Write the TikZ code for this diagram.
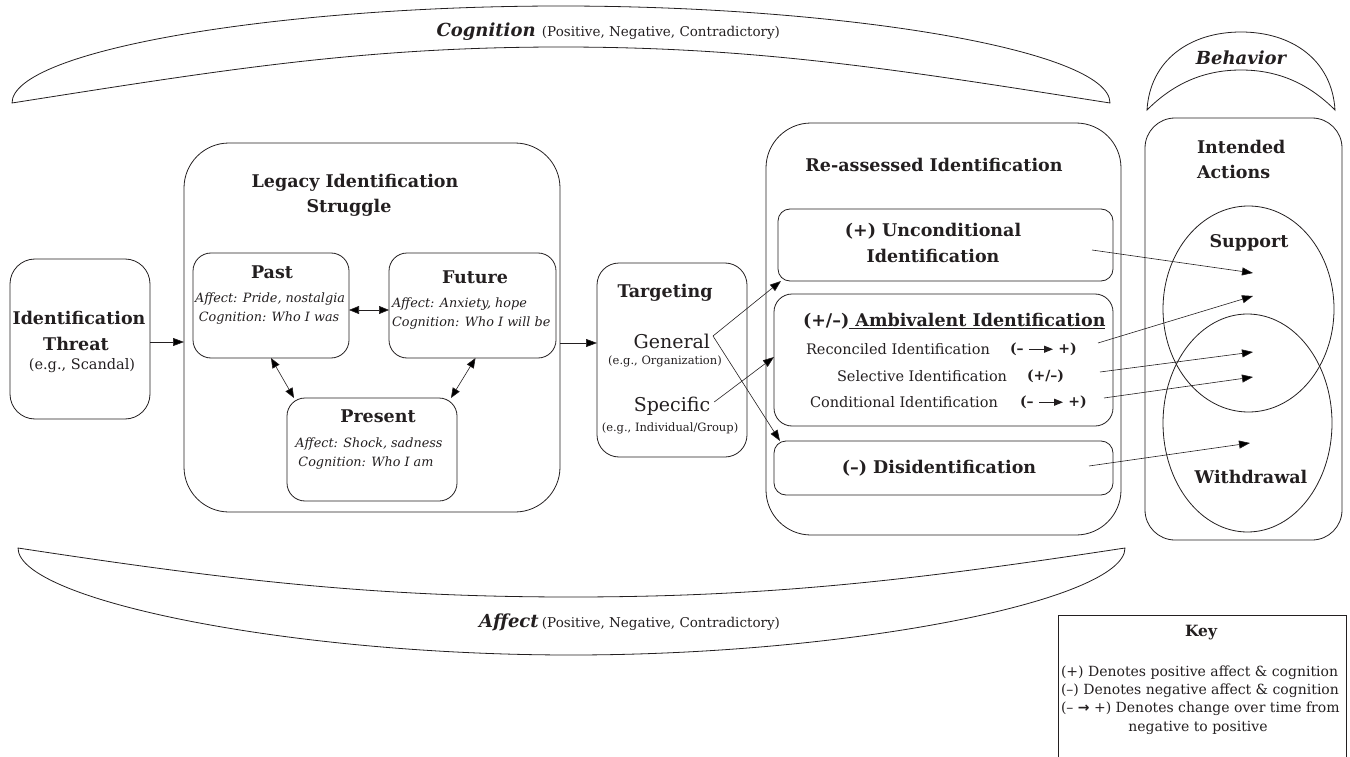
\documentclass[tikz,border=0pt]{standalone}
\usepackage{fontspec}
\setmainfont{DejaVu Serif}
\newfontfamily\symf{DejaVu Sans}
\usetikzlibrary{arrows.meta,shapes.geometric}
\definecolor{ink}{HTML}{231F20}
\newcommand\ltr{\tikz[x=1pt,y=1pt,baseline=-4pt]\draw[ink,-{Triangle[length=9pt,width=7pt]},line width=1.1pt] (0,0) -- (24pt,0);}
\begin{document}
\begin{tikzpicture}[x=1pt,y=-1pt,
  every node/.style={inner sep=0pt, outer sep=0pt, text=ink},
  frame/.style={draw=ink, line width=0.8pt, anchor=north west, inner sep=0pt},
  arr/.style={draw=ink, -{Triangle[length=11pt,width=8pt]}, line width=0.6pt},
  darr/.style={draw=ink, {Triangle[length=10pt,width=8pt]}-{Triangle[length=10pt,width=8pt]}, line width=0.6pt},
  crescent/.style={draw=ink, line width=0.8pt},
  hd/.style={font=\fontsize{17.5}{20}\selectfont\bfseries, align=center},
  ital/.style={font=\fontsize{12.8}{15}\selectfont\itshape},
  txt/.style={font=\fontsize{14.5}{17}\selectfont},
  keytxt/.style={font=\fontsize{14}{17}\selectfont},
  small/.style={font=\fontsize{11.5}{14}\selectfont},
  oval/.style={draw=ink, ellipse, line width=0.8pt, inner sep=0pt},
]
\useasboundingbox (0,0) rectangle (1350,757);

% ---- crescents ----
\draw[crescent] (12,103) .. controls (12,50) and (280,6) .. (561,6)
  .. controls (842,6) and (1110,50) .. (1110,103)
  .. controls (900,70) and (760,47) .. (561,47)
  .. controls (362,47) and (222,70) .. (12,103) -- cycle;
\draw[crescent] (1147,110) .. controls (1150,60) and (1190,32) .. (1241,32)
  .. controls (1292,32) and (1332,60) .. (1335,110)
  .. controls (1310,85) and (1280,70) .. (1241,70)
  .. controls (1202,70) and (1172,85) .. (1147,110) -- cycle;
\draw[crescent] (18,548) .. controls (18,600) and (290,655) .. (571,655)
  .. controls (852,655) and (1125,600) .. (1125,548)
  .. controls (915,580) and (770,597) .. (571,597)
  .. controls (372,597) and (228,580) .. (18,548) -- cycle;

\node[anchor=east] (coglab) at (780,32) {{\fontsize{18}{20}\selectfont\bfseries\itshape Cognition}\ \ {\fontsize{13.5}{16}\selectfont (Positive, Negative, Contradictory)}};
\node (behlab) at (1241,58) {\fontsize{18}{20}\selectfont\bfseries\itshape Behavior};
\node[anchor=east] (afflab) at (780,622) {{\fontsize{18}{20}\selectfont\bfseries\itshape Affect}\ {\fontsize{13.5}{16}\selectfont (Positive, Negative, Contradictory)}};

% ---- boxes ----
\node[frame, rounded corners=25pt, minimum width=140pt, minimum height=160pt] (threat) at (10,259) {};
\node[frame, rounded corners=45pt, minimum width=376pt, minimum height=369pt] (legacy) at (184,143) {};
\node[frame, rounded corners=18pt, minimum width=156pt, minimum height=105pt] (past) at (193,253) {};
\node[frame, rounded corners=18pt, minimum width=167pt, minimum height=105pt] (future) at (389,253) {};
\node[frame, rounded corners=18pt, minimum width=170pt, minimum height=103pt] (present) at (287,398) {};
\node[frame, rounded corners=22pt, minimum width=150pt, minimum height=194pt] (targ) at (597,263) {};
\node[frame, rounded corners=45pt, minimum width=355pt, minimum height=412pt] (reass) at (766,123) {};
\node[frame, rounded corners=12pt, minimum width=335pt, minimum height=72pt] (uncond) at (778,209) {};
\node[frame, rounded corners=18pt, minimum width=339pt, minimum height=132pt] (amb) at (774,294) {};
\node[frame, rounded corners=12pt, minimum width=339pt, minimum height=54pt] (dis) at (774,441) {};
\node[frame, rounded corners=30pt, minimum width=197pt, minimum height=422pt] (intended) at (1145,118) {};
\node[oval, minimum width=171pt, minimum height=206pt] (support) at (1248.5,309) {};
\node[oval, minimum width=169pt, minimum height=218pt] (withdraw) at (1247.5,423) {};
\draw[draw=ink, line width=0.8pt] (1058,765) -- (1058,615) -- (1346,615) -- (1346,765);

% ---- texts ----
\node[hd] (t1) at (79,318) {Identification};
\node[hd] (t2) at (76,344) {Threat};
\node[txt] (t3) at (82,366) {(e.g., Scandal)};

\node[hd] (lg1) at (355,183) {Legacy Identification};
\node[hd] (lg2) at (349,208) {Struggle};
\node[hd] (pastt) at (272,272) {Past};
\node[ital] (past1) at (270,299) {Affect: Pride, nostalgia};
\node[ital] (past2) at (269,318) {Cognition: Who I was};
\node[hd] (futt) at (475,277) {Future};
\node[ital, anchor=west] (fut1) at (392,304) {Affect: Anxiety, hope};
\node[ital, anchor=west] (fut2) at (392,323) {Cognition: Who I will be};
\node[hd] (prest) at (378,416) {Present};
\node[ital] (pres1) at (369,444) {Affect: Shock, sadness};
\node[ital] (pres2) at (366,463) {Cognition: Who I am};

\node[hd] (targt) at (665,293) {Targeting};
\node[font=\fontsize{19}{22}\selectfont, anchor=east] (gen) at (710,341) {General};
\node[small] (gen2) at (665,361) {(e.g., Organization)};
\node[font=\fontsize{19}{22}\selectfont] (spec) at (672,406) {Specific};
\node[small] (spec2) at (670,428) {(e.g., Individual/Group)};

\node[hd] (reat) at (934,165) {Re-assessed Identification};
\node[hd] (unc1) at (933,231) {(+) Unconditional};
\node[hd] (unc2) at (933,256) {Identification};
\node[hd, anchor=west] (ambt) at (803,321) {(+/--)\underline{\ Ambivalent Identification}};
\node[txt, anchor=west] (rec) at (806,349) {Reconciled Identification};
\node[txt, anchor=west, font=\fontsize{14}{17}\selectfont\bfseries] (recs) at (1010,349) {(-- \ltr{} +)};
\node[txt, anchor=west] (sel) at (837,376) {Selective Identification};
\node[txt, anchor=west, font=\fontsize{14}{17}\selectfont\bfseries] (sels) at (1027,376) {(+/--)};
\node[txt, anchor=west] (con) at (810,402) {Conditional Identification};
\node[txt, anchor=west, font=\fontsize{14}{17}\selectfont\bfseries] (cons) at (1020,402) {(-- \ltr{} +)};
\node[hd] (dist) at (939,468) {(--) Disidentification};

\node[hd, anchor=west] (int1) at (1197,147) {Intended};
\node[hd, anchor=west] (int2) at (1197,172) {Actions};
\node[hd] (supt) at (1249,243) {Support};
\node[hd] (witt) at (1251,477) {Withdrawal};

\node[font=\fontsize{15.5}{18}\selectfont\bfseries] (keyt) at (1201,633) {Key};
\node[keytxt, anchor=west] (k1) at (1061,673) {(+) Denotes positive affect \& cognition};
\node[keytxt, anchor=west] (k2) at (1061,691) {(--) Denotes negative affect \& cognition};
\node[keytxt, anchor=west] (k3) at (1061,709) {(-- {\symf\bfseries →} +) Denotes change over time from};
\node[keytxt] (k4) at (1198,728) {negative to positive};

% ---- connectors ----
\coordinate (ya) at (0,342);
\coordinate (yb) at (0,343);
\draw[arr] (threat.east |- ya) -- (legacy.west |- ya);
\draw[darr] ([yshift=-4.5pt]past.east) -- ([yshift=-4.5pt]future.west);
\draw[darr] (past.south) -- ([xshift=7pt]present.north west);
\draw[darr] ([xshift=3pt]future.south) -- ([xshift=-6pt]present.north east);
\draw[arr] (legacy.east |- yb) -- (targ.west |- yb);

\coordinate (gx) at ([xshift=3pt,yshift=5pt]gen.east);
\coordinate (sx) at ([xshift=4pt,yshift=4pt]spec.east);
\draw[arr] (gx) -- ([xshift=3pt]uncond.south west);
\draw[arr] (gx) -- ([xshift=6pt]dis.north west);
\draw[arr] (sx) -- ([yshift=3pt]amb.west);

\coordinate (s1) at (1092,250); \coordinate (e1) at (1253,273);
\coordinate (s2) at (1098,343); \coordinate (e2) at (1253,296);
\coordinate (s3) at (1100,372); \coordinate (e3) at (1253,352);
\coordinate (s4) at (1104,398); \coordinate (e4) at (1253,377);
\coordinate (s5) at (1089,466); \coordinate (e5) at (1250,443);
\draw[arr] (s1) -- (e1);
\draw[arr] (s2) -- (e2);
\draw[arr] (s3) -- (e3);
\draw[arr] (s4) -- (e4);
\draw[arr] (s5) -- (e5);
\end{tikzpicture}
\end{document}
